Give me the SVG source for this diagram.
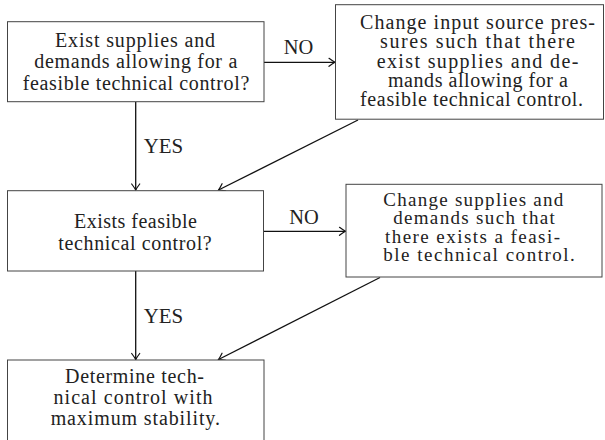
<svg xmlns="http://www.w3.org/2000/svg" width="605" height="440" viewBox="0 0 605 440">
<style>
.box{fill:#fff;stroke:#444;stroke-width:1}
.t{font-family:"Liberation Serif","Times New Roman",serif;font-size:20px;fill:#222;text-anchor:middle}
.s{font-size:19px}
.c{fill:none;stroke:#111;stroke-width:1.3}
</style>
<defs>
<marker id="ah" viewBox="-8 -5 10 10" refX="0" refY="0" markerWidth="10" markerHeight="10" markerUnits="userSpaceOnUse" orient="auto">
<path d="M-6,-4 Q-2,-1 0,0 Q-2,1 -6,4" fill="none" stroke="#111" stroke-width="1.2" stroke-linecap="round"/>
</marker>
</defs>
<rect width="605" height="440" fill="#fff"/>
<g id="connectors">
<line class="c" x1="264" y1="62.3" x2="335" y2="62.3" marker-end="url(#ah)"/>
<line class="c" x1="135.7" y1="102" x2="135.7" y2="190" marker-end="url(#ah)"/>
<line class="c" x1="358" y1="120" x2="218.5" y2="190" marker-end="url(#ah)"/>
<line class="c" x1="263.5" y1="231.3" x2="345.5" y2="231.3" marker-end="url(#ah)"/>
<line class="c" x1="135.7" y1="271" x2="135.7" y2="359.5" marker-end="url(#ah)"/>
<line class="c" x1="380" y1="277.5" x2="218.5" y2="359.5" marker-end="url(#ah)"/>
<text class="t" x="298.5" y="54" textLength="29.5" lengthAdjust="spacingAndGlyphs">NO</text>
<text class="t" x="163.5" y="153.3" textLength="39.5" lengthAdjust="spacingAndGlyphs">YES</text>
<text class="t" x="304" y="224.3" textLength="29.5" lengthAdjust="spacingAndGlyphs">NO</text>
<text class="t" x="163.5" y="323" textLength="39.5" lengthAdjust="spacingAndGlyphs">YES</text>
</g>
<g id="n1">
<rect class="box" x="7.5" y="21.7" width="256.5" height="80"/>
<text class="t" x="135" y="46.7" textLength="160" lengthAdjust="spacing">Exist supplies and</text>
<text class="t" x="135.8" y="68.3" textLength="203" lengthAdjust="spacing">demands allowing for a</text>
<text class="t" x="136" y="90" textLength="226.6" lengthAdjust="spacing">feasible technical control?</text>
</g>
<g id="n2">
<rect class="box" x="335.5" y="4.7" width="268" height="114.5"/>
<text class="t" x="477.5" y="29.3" textLength="235" lengthAdjust="spacing">Change input source pres-</text>
<text class="t" x="477.5" y="48.3" textLength="195" lengthAdjust="spacing">sures such that there</text>
<text class="t" x="477.5" y="67.7" textLength="201.7" lengthAdjust="spacing">exist supplies and de-</text>
<text class="t" x="478" y="86.7" textLength="180" lengthAdjust="spacing">mands allowing for a</text>
<text class="t" x="471.5" y="106" textLength="223" lengthAdjust="spacing">feasible technical control.</text>
</g>
<g id="n3">
<rect class="box" x="7.5" y="190.7" width="256" height="80.3"/>
<text class="t" x="135.5" y="228.3" textLength="123" lengthAdjust="spacing">Exists feasible</text>
<text class="t" x="135" y="250" textLength="153.4" lengthAdjust="spacing">technical control?</text>
</g>
<g id="n4">
<rect class="box" x="346" y="184.3" width="256" height="92.7"/>
<text class="t s" x="473.3" y="206" textLength="180" lengthAdjust="spacing">Change supplies and</text>
<text class="t s" x="474" y="224.3" textLength="161.7" lengthAdjust="spacing">demands such that</text>
<text class="t s" x="472.5" y="242.7" textLength="175" lengthAdjust="spacing">there exists a feasi-</text>
<text class="t s" x="479" y="261.3" textLength="191.7" lengthAdjust="spacing">ble technical control.</text>
</g>
<g id="n5">
<rect class="box" x="7.5" y="360" width="256.5" height="90"/>
<text class="t" x="134.5" y="383.3" textLength="139" lengthAdjust="spacing">Determine tech-</text>
<text class="t" x="133" y="404.3" textLength="159" lengthAdjust="spacing">nical control with</text>
<text class="t" x="135.3" y="425" textLength="169.3" lengthAdjust="spacing">maximum stability.</text>
</g>
</svg>
